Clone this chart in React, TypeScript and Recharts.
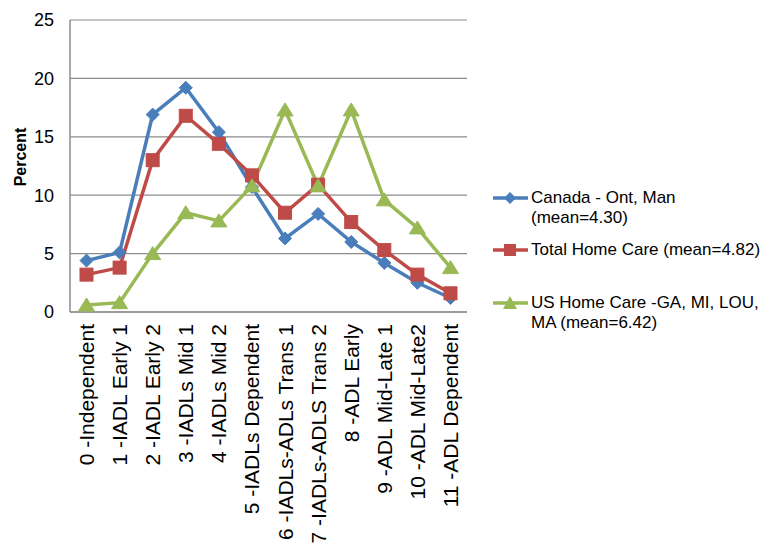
import React from 'react';
import { LineChart, Line, XAxis, YAxis, CartesianGrid, Legend } from 'recharts';

const categories = [
  '0 -Independent',
  '1 -IADL Early 1',
  '2 -IADL Early 2',
  '3 -IADLs Mid 1',
  '4 -IADLs Mid 2',
  '5 -IADLs Dependent',
  '6 -IADLs-ADLs Trans 1',
  '7 -IADLs-ADLS Trans 2',
  '8 -ADL Early',
  '9 -ADL Mid-Late 1',
  '10 -ADL Mid-Late2',
  '11 -ADL Dependent',
];
const canada = [4.4, 5.1, 16.9, 19.2, 15.4, 10.7, 6.3, 8.4, 6.0, 4.2, 2.5, 1.2];
const totalHomeCare = [3.2, 3.8, 13.0, 16.8, 14.4, 11.7, 8.5, 10.9, 7.7, 5.3, 3.2, 1.6];
const usHomeCare = [0.6, 0.8, 5.0, 8.5, 7.8, 10.8, 17.3, 10.8, 17.3, 9.6, 7.2, 3.8];
const yTicks = [0, 5, 10, 15, 20, 25];
const seriesNames = [
  'Canada - Ont, Man\n(mean=4.30)',
  'Total Home Care (mean=4.82)',
  'US Home Care -GA, MI, LOU,\nMA (mean=6.42)',
];

const BLUE = '#4a7ebb';
const RED = '#be4b48';
const GREEN = '#98b954';
const FONT = '"Liberation Sans", Arial, sans-serif';

const data = categories.map((c, i) => ({
  name: c,
  canada: canada[i],
  total: totalHomeCare[i],
  us: usHomeCare[i],
}));

const Diamond = ({ cx, cy, fill }: any) =>
  cx == null ? null : (
    <polygon points={`${cx},${cy - 6.5} ${cx + 6.5},${cy} ${cx},${cy + 6.5} ${cx - 6.5},${cy}`} fill={fill} stroke={fill} strokeWidth={1} />
  );
const Square = ({ cx, cy, fill }: any) =>
  cx == null ? null : <rect x={cx - 6.5} y={cy - 6.5} width={13} height={13} fill={fill} stroke={fill} strokeWidth={1} />;
const Triangle = ({ cx, cy, fill }: any) =>
  cx == null ? null : (
    <polygon points={`${cx},${cy - 7} ${cx + 8},${cy + 6} ${cx - 8},${cy + 6}`} fill={fill} stroke={fill} strokeWidth={1} />
  );

const XTick = (props: any) => {
  const { x, y, payload } = props;
  const ty = y + 4;
  return (
    <text
      x={x}
      y={ty}
      transform={`rotate(-90, ${x}, ${ty})`}
      textAnchor="end"
      dominantBaseline="central"
      fontSize={21}
      fontFamily={FONT}
      fill="#000"
    >
      {payload.value}
    </text>
  );
};

const markerFor = (i: number, color: string) => {
  if (i === 0)
    return <polygon points="18,-6 24,0 18,6 12,0" fill={color} />;
  if (i === 1) return <rect x={12} y={-6} width={12} height={12} fill={color} />;
  return <polygon points="18,-7 25,6 11,6" fill={color} />;
};

const LegendContent = (props: any) => {
  const { payload } = props;
  const gaps = [0, 12, 33];
  return (
    <div style={{ fontFamily: FONT, fontSize: 17, color: '#000' }}>
      {(payload || []).map((p: any, i: number) => (
        <div key={i} style={{ display: 'flex', alignItems: 'flex-start', marginTop: gaps[i] }}>
          <svg width={39} height={20} style={{ flex: 'none' }}>
            <g transform="translate(0,10)">
              <line x1={1} y1={0} x2={36} y2={0} stroke={p.color} strokeWidth={3.5} />
              {markerFor(i, p.color)}
            </g>
          </svg>
          <div style={{ whiteSpace: 'pre', lineHeight: '20px' }}>{p.value}</div>
        </div>
      ))}
    </div>
  );
};

export default function App() {
  return (
    <div style={{ position: 'absolute', left: 0, top: 0, width: 766, height: 543, background: '#fff', fontFamily: FONT }}>
      <LineChart width={766} height={543} data={data} margin={{ top: 20, right: 299, left: 0, bottom: 0 }}>
        <CartesianGrid vertical={false} stroke="#8c8c8c" strokeWidth={1.2} />
        <XAxis
          dataKey="name"
          interval={0}
          height={231}
          padding={{ left: 16.5, right: 16.5 }}
          tick={<XTick />}
          tickLine={false}
          axisLine={{ stroke: '#8c8c8c', strokeWidth: 1.5 }}
        />
        <YAxis
          width={70}
          domain={[0, 25]}
          ticks={yTicks}
          tickLine={false}
          tickSize={6}
          tickMargin={10}
          axisLine={{ stroke: '#8c8c8c', strokeWidth: 1.5 }}
          tick={{ fontSize: 18, fill: '#000', fontFamily: FONT }}
          label={{
            value: 'Percent',
            content: () => (
              <text
                x={20}
                y={157}
                transform="rotate(-90, 20, 157)"
                textAnchor="middle"
                dominantBaseline="central"
                fontSize={16}
                fontWeight="bold"
                fontFamily={FONT}
                fill="#000"
              >
                Percent
              </text>
            ),
          }}
        />
        <Legend
          layout="vertical"
          align="center"
          verticalAlign="middle"
          wrapperStyle={{ left: 492, top: 188, width: 274 }}
          content={<LegendContent />}
        />
        <Line
          dataKey="canada"
          name={seriesNames[0]}
          stroke={BLUE}
          strokeWidth={3.5}
          dot={<Diamond fill={BLUE} />}
          activeDot={false}
          isAnimationActive={false}
        />
        <Line
          dataKey="total"
          name={seriesNames[1]}
          stroke={RED}
          strokeWidth={3.5}
          dot={<Square fill={RED} />}
          activeDot={false}
          isAnimationActive={false}
        />
        <Line
          dataKey="us"
          name={seriesNames[2]}
          stroke={GREEN}
          strokeWidth={3.5}
          dot={<Triangle fill={GREEN} />}
          activeDot={false}
          isAnimationActive={false}
        />
      </LineChart>
    </div>
  );
}
